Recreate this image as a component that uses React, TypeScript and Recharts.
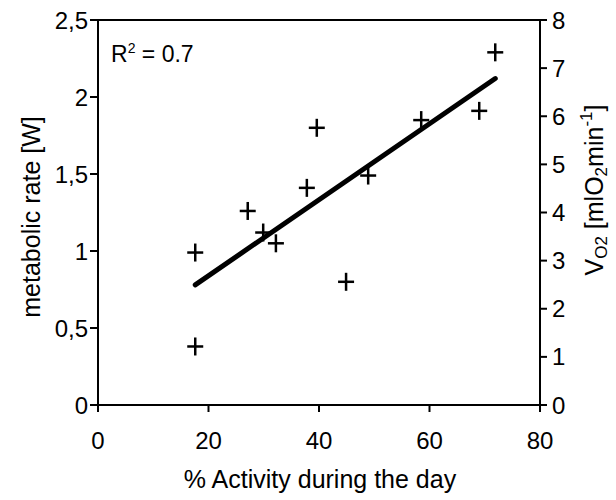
import {
  ComposedChart,
  Scatter,
  XAxis,
  YAxis,
  ReferenceLine,
} from "recharts";

// % of the day spent active vs. measured metabolic rate [W]
const activity = [17.6, 17.6, 27.1, 29.9, 32.2, 37.8, 39.6, 44.9, 48.9, 58.5, 69.0, 71.9];
const metabolicRate = [0.99, 0.38, 1.26, 1.12, 1.05, 1.41, 1.8, 0.8, 1.49, 1.85, 1.91, 2.29];

// end points of the linear fit
const fitX = [17.6, 71.9];
const fitY = [0.78, 2.12];

const xTicks = [0, 20, 40, 60, 80];
const leftTicks = [0, 0.5, 1, 1.5, 2, 2.5];
const rightTicks = [0, 1, 2, 3, 4, 5, 6, 7, 8];

const FONT = "'Liberation Sans', Arial, sans-serif";

const points = activity.map((x, i) => ({ x, y: metabolicRate[i] }));
const fitSegment = fitX.map((x, i) => ({ x, y: fitY[i] }));

const Cross = (props: any) => {
  const { cx, cy } = props;
  return (
    <g stroke="#000" strokeWidth={2.5}>
      <line x1={cx - 8} y1={cy} x2={cx + 8} y2={cy} />
      <line x1={cx} y1={cy - 9} x2={cx} y2={cy + 9} />
    </g>
  );
};

const LeftTitle = () => (
  <text
    transform="translate(40,217) rotate(-90)"
    textAnchor="middle"
    fontFamily={FONT}
    fontSize={25}
    fill="#000"
  >
    metabolic rate [W]
  </text>
);

const RightTitle = () => (
  <text
    transform="translate(603,190) rotate(-90)"
    textAnchor="middle"
    fontFamily={FONT}
    fontSize={25}
    fill="#000"
  >
    V
    <tspan fontSize={17} dy={4}>O2</tspan>
    <tspan dy={-4}> [mlO</tspan>
    <tspan fontSize={17} dy={4}>2</tspan>
    <tspan dy={-4}>min</tspan>
    <tspan fontSize={17} dy={-11}>-1</tspan>
    <tspan dy={11}>]</tspan>
  </text>
);

const BottomTitle = () => (
  <text x={320} y={488} textAnchor="middle" fontFamily={FONT} fontSize={25} fill="#000">
    % Activity during the day
  </text>
);

const RSquared = () => (
  <text x={111} y={62} fontFamily={FONT} fontSize={23} fill="#000">
    R<tspan fontSize={14} dy={-9}>2</tspan>
    <tspan dy={9}> = 0.7</tspan>
  </text>
);

const tickStyle = { fill: "#000", fontSize: 24, fontFamily: FONT };
const lineStyle = { stroke: "#000", strokeWidth: 2 };

export default function App() {
  return (
    <div style={{ position: "absolute", left: 0, top: 0, background: "#fff" }}>
      <ComposedChart
        width={616}
        height={500}
        data={points}
        margin={{ top: 20, right: 0, bottom: 0, left: 0 }}
      >
        <XAxis
          type="number"
          dataKey="x"
          domain={[0, 80]}
          ticks={xTicks}
          tick={tickStyle}
          tickSize={7}
          tickMargin={20}
          axisLine={lineStyle}
          tickLine={lineStyle}
          height={95}
          label={{ content: BottomTitle }}
        />
        <YAxis
          yAxisId="left"
          type="number"
          dataKey="y"
          domain={[0, 2.5]}
          ticks={leftTicks}
          tickFormatter={(v: number) => String(v).replace(".", ",")}
          tick={tickStyle}
          tickSize={8}
          tickMargin={2}
          axisLine={lineStyle}
          tickLine={lineStyle}
          width={98}
          label={{ content: LeftTitle }}
        />
        <YAxis
          yAxisId="right"
          orientation="right"
          type="number"
          domain={[0, 8]}
          allowDataOverflow
          ticks={rightTicks}
          tick={tickStyle}
          tickSize={7}
          tickMargin={5}
          axisLine={lineStyle}
          tickLine={lineStyle}
          width={76}
          label={{ content: RightTitle }}
        />
        <ReferenceLine
          yAxisId="right"
          y={8}
          stroke="#000"
          strokeWidth={2}
          label={{ content: RSquared }}
        />
        <ReferenceLine
          yAxisId="left"
          segment={fitSegment}
          stroke="#000"
          strokeWidth={5}
          strokeLinecap="round"
        />
        <Scatter
          yAxisId="left"
          dataKey="y"
          shape={Cross}
          isAnimationActive={false}
        />
      </ComposedChart>
    </div>
  );
}
